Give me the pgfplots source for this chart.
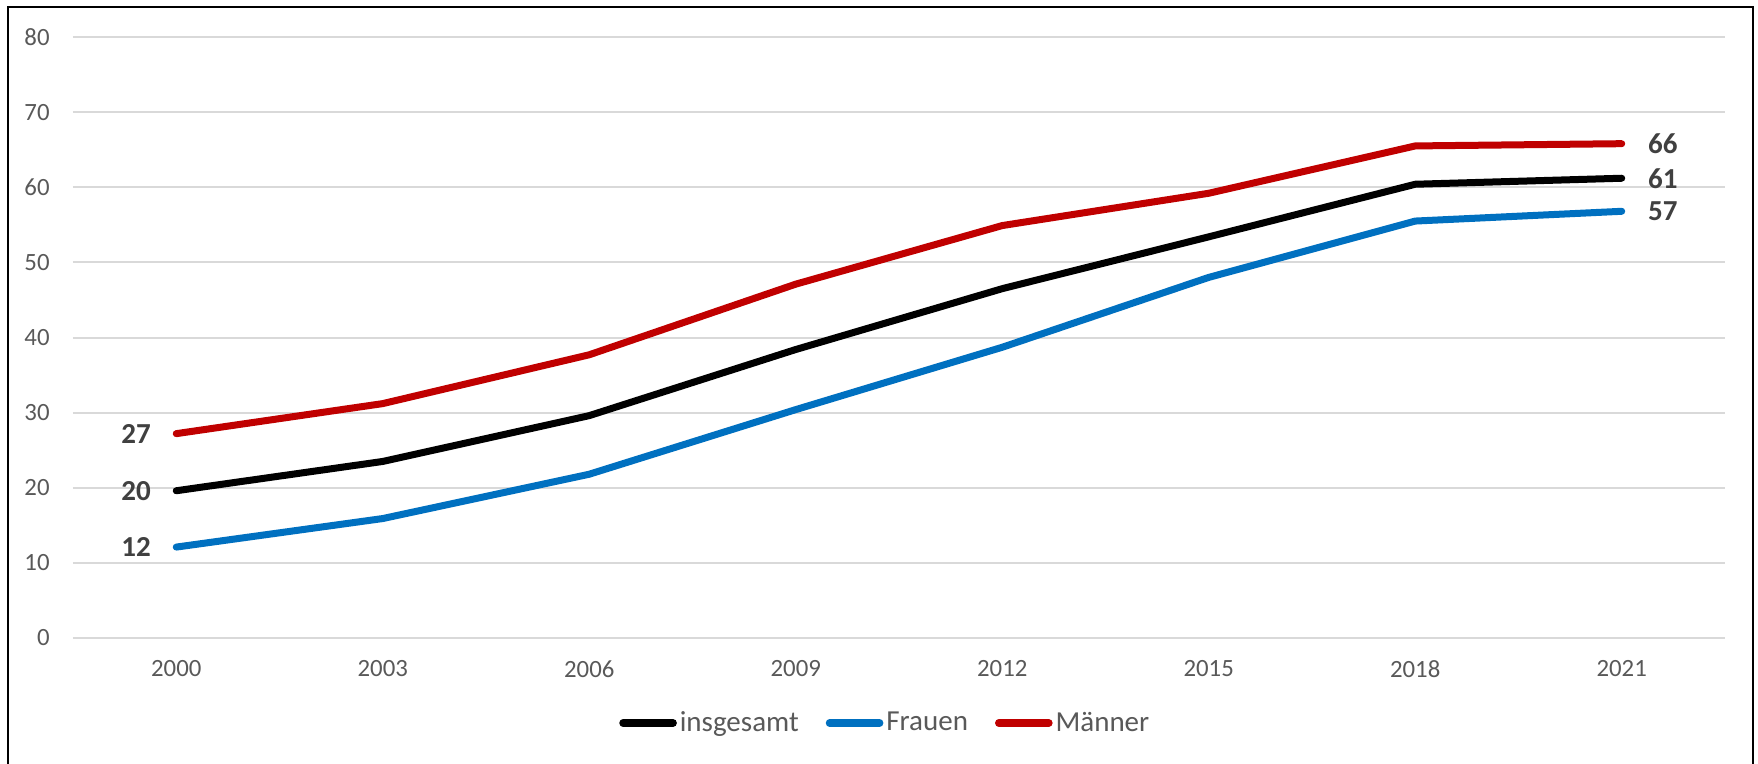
\documentclass[border=0pt]{standalone}
\usepackage{fontspec}
\setmainfont{Carlito}
\usepackage{pgfplots}
\pgfplotsset{compat=1.18}
\definecolor{cred}{HTML}{C00000}
\definecolor{cblue}{HTML}{0070C0}
\definecolor{ctick}{HTML}{595959}
\definecolor{clab}{HTML}{404040}
\definecolor{cgrid}{HTML}{D9D9D9}
\begin{document}
\begin{tikzpicture}
\useasboundingbox (-36.5pt,-63pt) rectangle (842.5pt,319pt);
\draw[line width=1pt] (-32.5pt,-64pt) -- (-32.5pt,315.5pt) -- (840pt,315.5pt) -- (840pt,-64pt);
\begin{axis}[
  at={(0,0)}, anchor=south west,
  scale only axis, width=826pt, height=300.5pt,
  xmin=-0.5, xmax=7.5, ymin=0, ymax=80,
  ytick={0,10,...,80},
  xtick={0,...,7},
  xticklabels={2000,2003,2006,2009,2012,2015,2018,2021},
  ymajorgrids,
  grid style={cgrid, line width=1pt},
  axis line style={draw=none},
  major tick length=0pt,
  /pgf/number format/assume math mode=true,
  tick label style={font=\fontsize{12.4}{14}\selectfont, text=ctick, inner sep=0pt},
  yticklabel style={anchor=east, xshift=-11.5pt},
  xticklabel style={anchor=north, yshift=-11pt},
  legend style={at={(0.492,-0.1414)}, anchor=center, draw=none,
    font=\fontsize{14.5}{16}\selectfont, text=ctick,
    nodes={inner sep=1.5pt},
    /tikz/every even column/.append style={column sep=12pt}},
  legend columns=3,
  legend image code/.code={\draw[#1, line width=3.8pt, line cap=round] (0pt,0pt) -- (25pt,0pt);},
  every axis plot/.append style={line width=3.5pt, line join=round, line cap=round},
]
\addplot[black] coordinates {(0,19.6) (1,23.5) (2,29.6) (3,38.4) (4,46.5) (5,53.4) (6,60.4) (7,61.2)};
\addlegendentry{insgesamt}
\addplot[cblue] coordinates {(0,12.1) (1,15.9) (2,21.8) (3,30.4) (4,38.7) (5,48.0) (6,55.5) (7,56.8)};
\addlegendentry{Frauen}
\addplot[cred] coordinates {(0,27.2) (1,31.2) (2,37.7) (3,47.1) (4,54.9) (5,59.2) (6,65.5) (7,65.8)};
\addlegendentry{Männer}
\addplot[forget plot, draw=none, nodes near coords, point meta=explicit symbolic,
  nodes near coords style={anchor=east, xshift=-11pt, font=\bfseries\fontsize{14.5}{16}\selectfont, text=clab, inner sep=0pt}]
  coordinates {(0,27.2)[27] (0,19.6)[20] (0,12.1)[12]};
\addplot[forget plot, draw=none, nodes near coords, point meta=explicit symbolic,
  nodes near coords style={anchor=west, xshift=11.5pt, font=\bfseries\fontsize{14.5}{16}\selectfont, text=clab, inner sep=0pt}]
  coordinates {(7,65.8)[66] (7,61.2)[61] (7,56.8)[57]};
\end{axis}
\end{tikzpicture}
\end{document}
